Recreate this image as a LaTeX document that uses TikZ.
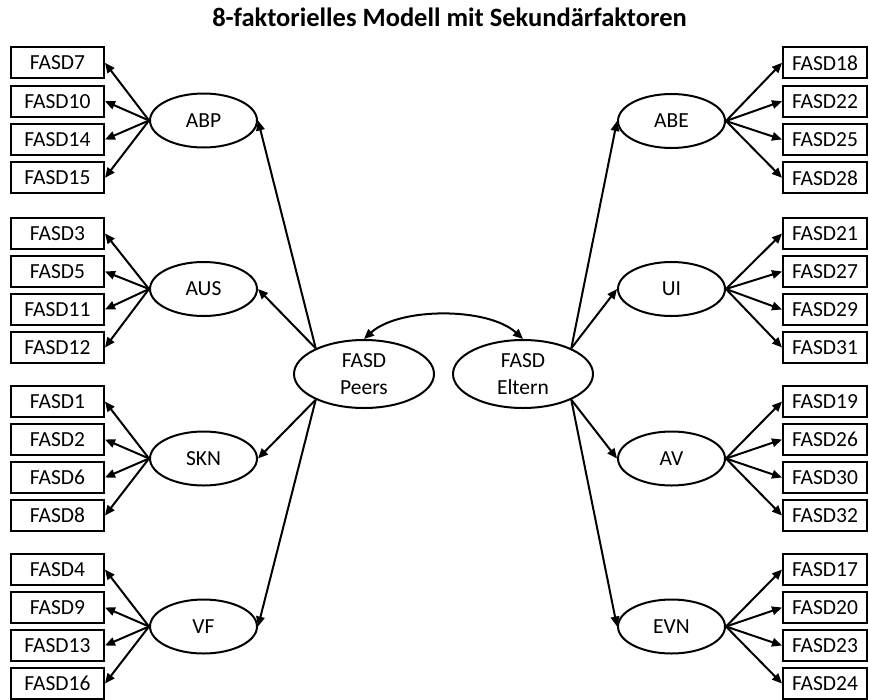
\documentclass[tikz,border=0pt]{standalone}
\usepackage{fontspec}
\setmainfont{Carlito}
\usetikzlibrary{shapes.geometric,arrows.meta}
\begin{document}
\begin{tikzpicture}[x=1pt,y=-1pt,
  every node/.style={font=\fontsize{21.5}{26.5}\selectfont},
  lbox/.style={draw,line width=2pt,minimum width=93pt,minimum height=31pt,inner sep=0pt,anchor=center},
  rbox/.style={draw,line width=2pt,minimum width=84pt,minimum height=31pt,inner sep=0pt,anchor=center},
  fac/.style={draw,ellipse,line width=2pt,minimum width=107pt,minimum height=54pt,inner sep=0pt},
  big/.style={draw,ellipse,line width=2pt,minimum width=140pt,minimum height=68pt,inner sep=0pt,align=center},
  arr/.style={line width=2pt,-{Triangle[length=10pt,width=8.5pt]}},
  darr/.style={line width=2pt,{Triangle[length=10pt,width=8.5pt]}-{Triangle[length=10pt,width=8.5pt]}}
]
\useasboundingbox (0,0) rectangle (869,699);
\node[anchor=base,font=\fontsize{26.5}{30}\selectfont\bfseries] (title) at (449.5,26.5) {8-faktorielles Modell mit Sekundärfaktoren};

% central factors
\node[big] (P) at (364,374) {FASD\\Peers};
\node[big] (E) at (523,374) {FASD\\Eltern};
\draw[darr] (P.north) .. controls +(35,-32) and +(-35,-32) .. (E.north);

% left factors
\node[fac] (ABP) at (203.5,120.5) {ABP};
\node[fac] (AUS) at (203.5,289) {AUS};
\node[fac] (SKN) at (203.5,458.5) {SKN};
\node[fac] (VF)  at (203.5,626.5) {VF};
% right factors
\node[fac] (ABE) at (671.5,121) {ABE};
\node[fac] (UI)  at (671.5,289) {UI};
\node[fac] (AV)  at (671.5,458.5) {AV};
\node[fac] (EVN) at (671.5,626.5) {EVN};

\draw[arr] (P.152) -- (ABP.east);
\draw[arr] (P.152) -- (AUS.east);
\draw[arr] (P.208) -- (SKN.east);
\draw[arr] (P.208) -- (VF.east);
\draw[arr] (E.28) -- (ABE.west);
\draw[arr] (E.28) -- (UI.west);
\draw[arr] (E.-28) -- (AV.west);
\draw[arr] (E.-28) -- (EVN.west);

% left boxes
\foreach \n/\y/\f in {FASD7/62.8/ABP,FASD10/101.2/ABP,FASD14/139.5/ABP,FASD15/177.8/ABP,
                      FASD3/233.5/AUS,FASD5/271.5/AUS,FASD11/309.5/AUS,FASD12/347.5/AUS,
                      FASD1/401.5/SKN,FASD2/439.5/SKN,FASD6/477.5/SKN,FASD8/515.5/SKN,
                      FASD4/569.5/VF,FASD9/607.5/VF,FASD13/645.5/VF,FASD16/683.5/VF}{
  \node[lbox] (\n) at (57.5,\y) {\n};
  \draw[arr] (\f.west) -- (\n.east);
}
% right boxes
\foreach \n/\y/\f in {FASD18/62.8/ABE,FASD22/101.2/ABE,FASD25/139.5/ABE,FASD28/177.8/ABE,
                      FASD21/233.5/UI,FASD27/271.5/UI,FASD29/309.5/UI,FASD31/347.5/UI,
                      FASD19/401.5/AV,FASD26/439.5/AV,FASD30/477.5/AV,FASD32/515.5/AV,
                      FASD17/569.5/EVN,FASD20/607.5/EVN,FASD23/645.5/EVN,FASD24/683.5/EVN}{
  \node[rbox] (\n) at (825,\y) {\n};
  \draw[arr] (\f.east) -- (\n.west);
}
\end{tikzpicture}
\end{document}
